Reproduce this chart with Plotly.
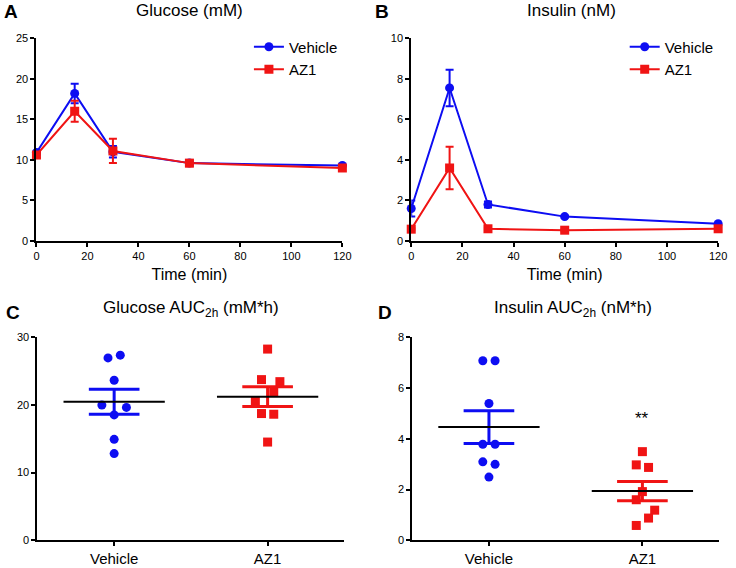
import numpy as np
import plotly.graph_objects as go

# ---------------- data ----------------
time_min = [0, 15, 30, 60, 120]

glu_vehicle = [10.9, 18.2, 11.0, 9.6, 9.3]
glu_vehicle_err = [0.3, 1.2, 0.7, 0.3, 0.2]
glu_az1 = [10.6, 16.0, 11.1, 9.6, 9.0]
glu_az1_err = [0.3, 1.3, 1.5, 0.4, 0.2]

ins_vehicle = [1.6, 7.55, 1.8, 1.2, 0.85]
ins_vehicle_err = [0.4, 0.9, 0.15, 0.05, 0.05]
ins_az1 = [0.58, 3.6, 0.6, 0.53, 0.6]
ins_az1_err = [0.05, 1.05, 0.05, 0.05, 0.05]

groups = ["Vehicle", "AZ1"]
glu_auc_vehicle = [26.9, 27.3, 23.6, 19.95, 19.6, 18.5, 14.9, 12.8]
glu_auc_az1 = [28.2, 23.7, 23.4, 21.8, 20.6, 18.7, 18.6, 14.5]
ins_auc_vehicle = [7.06, 7.06, 5.38, 3.78, 3.78, 3.09, 2.99, 2.49]
ins_auc_az1 = [3.49, 2.97, 2.87, 1.92, 1.60, 1.19, 0.88, 0.59]

# jitter pattern (horizontal offsets, category units) for the scatter dots
glu_jit_vehicle = [-0.04, 0.04, 0, -0.08, 0.08, 0, 0, 0]
glu_jit_az1 = [0, -0.04, 0.08, 0.04, -0.08, -0.04, 0.04, 0]
ins_jit_vehicle = [-0.04, 0.04, 0, -0.04, 0.04, -0.04, 0.04, 0]
ins_jit_az1 = [0, -0.04, 0.04, 0, -0.04, 0.08, 0.04, -0.04]

BLUE = "#0d0df2"
RED = "#f01414"
FONT = "Liberation Sans, Arial, sans-serif"

W, H = 736, 568


def px_x(p):
    return p / W


def px_y(p):
    return 1 - p / H


fig = go.Figure()

# ---------------- panels A / B ----------------
def time_traces(xa, ya, v, ve, a, ae, legend):
    fig.add_trace(go.Scatter(
        x=time_min, y=v, xaxis=xa, yaxis=ya, name="Vehicle", mode="lines+markers",
        line=dict(color=BLUE, width=2), marker=dict(symbol="circle", size=9, color=BLUE),
        error_y=dict(type="data", array=ve, color=BLUE, thickness=2, width=4),
        cliponaxis=False, legend=legend, legendgroup=legend + "v"))
    fig.add_trace(go.Scatter(
        x=time_min, y=a, xaxis=xa, yaxis=ya, name="AZ1", mode="lines+markers",
        line=dict(color=RED, width=2), marker=dict(symbol="square", size=9, color=RED),
        error_y=dict(type="data", array=ae, color=RED, thickness=2, width=4),
        cliponaxis=False, legend=legend, legendgroup=legend + "a"))


time_traces("x", "y", glu_vehicle, glu_vehicle_err, glu_az1, glu_az1_err, "legend")
time_traces("x2", "y2", ins_vehicle, ins_vehicle_err, ins_az1, ins_az1_err, "legend2")


# ---------------- panels C / D ----------------
def dot_panel(xa, ya, vals_v, vals_a, jit_v, jit_a):
    for i, (vals, jit, col, sym) in enumerate([(vals_v, jit_v, BLUE, "circle"),
                                                (vals_a, jit_a, RED, "square")]):
        arr = np.array(vals)
        fig.add_trace(go.Scatter(
            x=[i + j for j in jit], y=vals, xaxis=xa, yaxis=ya, mode="markers",
            marker=dict(symbol=sym, size=9, color=col), showlegend=False, cliponaxis=False))
        m = arr.mean()
        sem = arr.std(ddof=1) / np.sqrt(len(arr))
        # SEM bars
        fig.add_trace(go.Scatter(
            x=[i - 0.165, i + 0.165, None, i - 0.165, i + 0.165, None, i, i],
            y=[m + sem, m + sem, None, m - sem, m - sem, None, m + sem, m - sem],
            xaxis=xa, yaxis=ya, mode="lines", line=dict(color=col, width=3),
            showlegend=False, hoverinfo="skip"))
        # mean line
        fig.add_trace(go.Scatter(
            x=[i - 0.33, i + 0.33], y=[m, m], xaxis=xa, yaxis=ya, mode="lines",
            line=dict(color="black", width=2), showlegend=False, hoverinfo="skip"))


dot_panel("x3", "y3", glu_auc_vehicle, glu_auc_az1, glu_jit_vehicle, glu_jit_az1)
dot_panel("x4", "y4", ins_auc_vehicle, ins_auc_az1, ins_jit_vehicle, ins_jit_az1)

# ---------------- axes ----------------
axis_common = dict(showline=True, linecolor="black", linewidth=2, ticks="outside",
                   ticklen=4, tickwidth=2, tickcolor="black", showgrid=False,
                   zeroline=False, tickfont=dict(size=11, color="black", family=FONT))

top_dom = [px_y(240), px_y(33)]
bot_dom = [px_y(546), px_y(338)]
xtitle = dict(text="Time (min)", font=dict(size=16, family=FONT, color="black"), standoff=8)

fig.update_layout(
    xaxis=dict(axis_common, domain=[px_x(34), px_x(345)], range=[0, 120], tickvals=[0, 20, 40, 60, 80, 100, 120],
               anchor="y", title=xtitle),
    yaxis=dict(axis_common, domain=top_dom, range=[0, 25], tickvals=[0, 5, 10, 15, 20, 25], anchor="x"),
    xaxis2=dict(axis_common, domain=[px_x(415), px_x(727)], range=[0, 120], tickvals=[0, 20, 40, 60, 80, 100, 120],
                anchor="y2", title=xtitle),
    yaxis2=dict(axis_common, domain=top_dom, range=[0, 10], tickvals=[0, 2, 4, 6, 8, 10], anchor="x2"),
    xaxis3=dict(axis_common, domain=[px_x(35), px_x(347)], range=[-0.5, 1.5], tickvals=[0, 1], ticktext=groups,
                anchor="y3", tickfont=dict(size=15, color="black", family=FONT)),
    yaxis3=dict(axis_common, domain=bot_dom, range=[0, 30], tickvals=[0, 10, 20, 30], anchor="x3"),
    xaxis4=dict(axis_common, domain=[px_x(416), px_x(728)], range=[-0.5, 1.5], tickvals=[0, 1], ticktext=groups,
                anchor="y4", tickfont=dict(size=15, color="black", family=FONT)),
    yaxis4=dict(axis_common, domain=bot_dom, range=[0, 8], tickvals=[0, 2, 4, 6, 8], anchor="x4"),
)

legend_common = dict(font=dict(size=15, family=FONT, color="black"), bgcolor="rgba(0,0,0,0)",
                     xanchor="left", yanchor="top", tracegroupgap=0, traceorder="grouped")
fig.update_layout(
    width=W, height=H, margin=dict(l=0, r=0, t=0, b=0),
    paper_bgcolor="white", plot_bgcolor="white",
    font=dict(family=FONT, color="black"),
    legend=dict(legend_common, x=px_x(250), y=px_y(25)),
    legend2=dict(legend_common, x=px_x(632), y=px_y(25)),
)

# ---------------- text ----------------
ann = []
def txt(x, y, s, size, bold=False):
    ann.append(dict(x=px_x(x), y=px_y(y), xref="paper", yref="paper", text=("<b>%s</b>" % s) if bold else s,
                    showarrow=False, font=dict(size=size, family=FONT, color="black"),
                    xanchor="center", yanchor="middle"))

txt(190, 5, "Glucose (mM)", 17)
txt(578, 5, "Insulin (nM)", 17)
txt(191, 310, "Glucose AUC<sub>2h</sub> (mM*h)", 17)
txt(579, 310, "Insulin AUC<sub>2h</sub> (nM*h)", 17)
txt(8, 6, "A", 19, True)
txt(385, 6, "B", 19, True)
txt(10, 313, "C", 19, True)
txt(388, 313, "D", 19, True)
ann.append(dict(x=1, y=np.mean(ins_auc_az1) + 2.85, xref="x4", yref="y4", text="**", showarrow=False,
                font=dict(size=17, family=FONT, color="black"), xanchor="center", yanchor="middle"))
fig.update_layout(annotations=ann)

fig.write_html("out.html", config={"displayModeBar": False},
               post_script="document.body.style.margin='0';document.body.style.padding='0';")
